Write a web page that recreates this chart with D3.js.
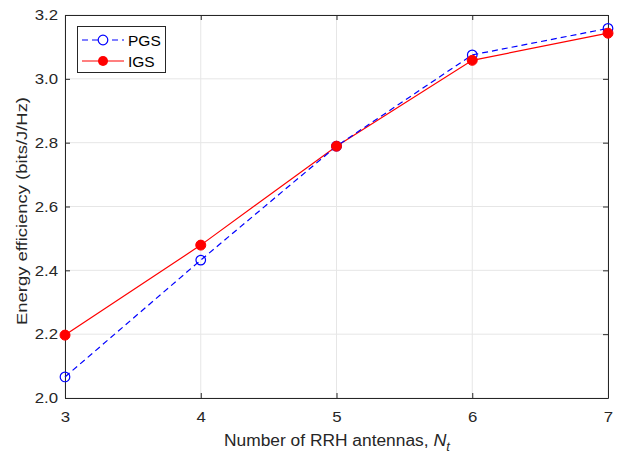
<!DOCTYPE html>
<html><head><meta charset="utf-8">
<script src="https://cdn.jsdelivr.net/npm/d3@7"></script>
<style>body{margin:0;background:#fff}</style>
</head><body>
<svg id="c" width="623" height="455"></svg>
<script>
const antennas = [3, 4, 5, 6, 7];
const pgs = [2.066, 2.432, 2.789, 3.075, 3.158];
const igs = [2.197, 2.479, 2.789, 3.058, 3.143];
const xTicks = [3, 4, 5, 6, 7];
const yTicks = [2.0, 2.2, 2.4, 2.6, 2.8, 3.0, 3.2];

const svg = d3.select("#c");
const L = 65, R = 608, T = 15, B = 398;
const x = d3.scaleLinear().domain([3, 7]).range([L, R]);
const y = d3.scaleLinear().domain([2.0, 3.2]).range([B, T]);
const font = "'Liberation Sans', Arial, sans-serif";
const axc = "#262626";

function stretch(sel, k){
  sel.each(function(){
    const w = this.getComputedTextLength();
    d3.select(this).attr("textLength", w * k).attr("lengthAdjust", "spacingAndGlyphs");
  });
}

// grid
const g = svg.append("g");
g.selectAll(".gx").data(xTicks).enter().append("line")
  .attr("x1", d => x(d)).attr("x2", d => x(d)).attr("y1", T).attr("y2", B)
  .attr("stroke", "#e6e6e6").attr("stroke-width", 1);
g.selectAll(".gy").data(yTicks).enter().append("line")
  .attr("y1", d => y(d)).attr("y2", d => y(d)).attr("x1", L).attr("x2", R)
  .attr("stroke", "#e6e6e6").attr("stroke-width", 1);

// axes
const tl = 5;
const xa = d3.axisBottom(x).tickValues(xTicks).tickFormat(d3.format("d")).tickSizeInner(-tl).tickSizeOuter(0).tickPadding(13);
const ya = d3.axisLeft(y).tickValues(yTicks).tickFormat(d3.format(".1f")).tickSizeInner(-tl).tickSizeOuter(0).tickPadding(7);
const xt = d3.axisTop(x).tickValues(xTicks).tickFormat("").tickSizeInner(-tl).tickSizeOuter(0);
const yr = d3.axisRight(y).tickValues(yTicks).tickFormat("").tickSizeInner(-tl).tickSizeOuter(0);
function styleAx(sel){
  sel.select(".domain").attr("stroke", axc);
  sel.selectAll(".tick line").attr("stroke", axc);
  sel.selectAll("text").attr("fill", axc).style("font-family", font).style("font-size", "15px");
}
const gx = svg.append("g").attr("transform", `translate(0,${B})`).call(xa).call(styleAx);
const gy = svg.append("g").attr("transform", `translate(${L},0)`).call(ya).call(styleAx);
svg.append("g").attr("transform", `translate(0,${T})`).call(xt).call(styleAx);
svg.append("g").attr("transform", `translate(${R},0)`).call(yr).call(styleAx);
stretch(gx.selectAll(".tick text"), 1.12);
stretch(gy.selectAll(".tick text"), 1.12);

// lines
const line = d3.line().x((d, i) => x(antennas[i])).y(d => y(d));
svg.append("path").datum(igs).attr("d", line).attr("fill", "none").attr("stroke", "#ff0000").attr("stroke-width", 1.2);
svg.append("path").datum(pgs).attr("d", line).attr("fill", "none").attr("stroke", "#0000ff").attr("stroke-width", 1.2).attr("stroke-dasharray", "6,4");
svg.selectAll(".pm").data(pgs).enter().append("circle")
  .attr("cx", (d, i) => x(antennas[i])).attr("cy", d => y(d)).attr("r", 4.8)
  .attr("fill", "none").attr("stroke", "#0000ff").attr("stroke-width", 1.2);
svg.selectAll(".im").data(igs).enter().append("circle")
  .attr("cx", (d, i) => x(antennas[i])).attr("cy", d => y(d)).attr("r", 5)
  .attr("fill", "#ff0000").attr("stroke", "#ff0000");

// legend
const lg = svg.append("g");
lg.append("rect").attr("x", 77.5).attr("y", 26.5).attr("width", 88).attr("height", 46)
  .attr("fill", "#fff").attr("stroke", axc).attr("stroke-width", 1);
lg.append("line").attr("x1", 82).attr("x2", 124).attr("y1", 40).attr("y2", 40)
  .attr("stroke", "#0000ff").attr("stroke-width", 1.2).attr("stroke-dasharray", "6,4");
lg.append("circle").attr("cx", 103).attr("cy", 40).attr("r", 4.8).attr("fill", "#fff").attr("stroke", "#0000ff").attr("stroke-width", 1.2);
lg.append("line").attr("x1", 82).attr("x2", 124).attr("y1", 61).attr("y2", 61)
  .attr("stroke", "#ff0000").attr("stroke-width", 1.2);
lg.append("circle").attr("cx", 103).attr("cy", 61).attr("r", 5).attr("fill", "#ff0000");
lg.append("text").attr("x", 128).attr("y", 45.5).text("PGS").attr("fill", "#000").style("font-family", font).style("font-size", "15.5px");
lg.append("text").attr("x", 128).attr("y", 66.5).text("IGS").attr("fill", "#000").style("font-family", font).style("font-size", "15.5px");

// labels
const xl = svg.append("text").attr("x", 337).attr("y", 445.7).attr("text-anchor", "middle")
  .attr("fill", axc).style("font-family", font).style("font-size", "16px");
xl.append("tspan").text("Number of RRH antennas, ");
xl.append("tspan").text("N").style("font-style", "italic").style("font-size", "16.5px");
xl.append("tspan").text("t").style("font-style", "italic").style("font-size", "12px").attr("dy", 5);
xl.attr("textLength", 226).attr("lengthAdjust", "spacingAndGlyphs");
svg.append("text").attr("transform", `translate(26.5,211) rotate(-90)`).attr("text-anchor", "middle")
  .attr("fill", axc).style("font-family", font).style("font-size", "15.5px").text("Energy efficiency (bits/J/Hz)")
  .attr("textLength", 228).attr("lengthAdjust", "spacingAndGlyphs");
</script>
</body></html>
